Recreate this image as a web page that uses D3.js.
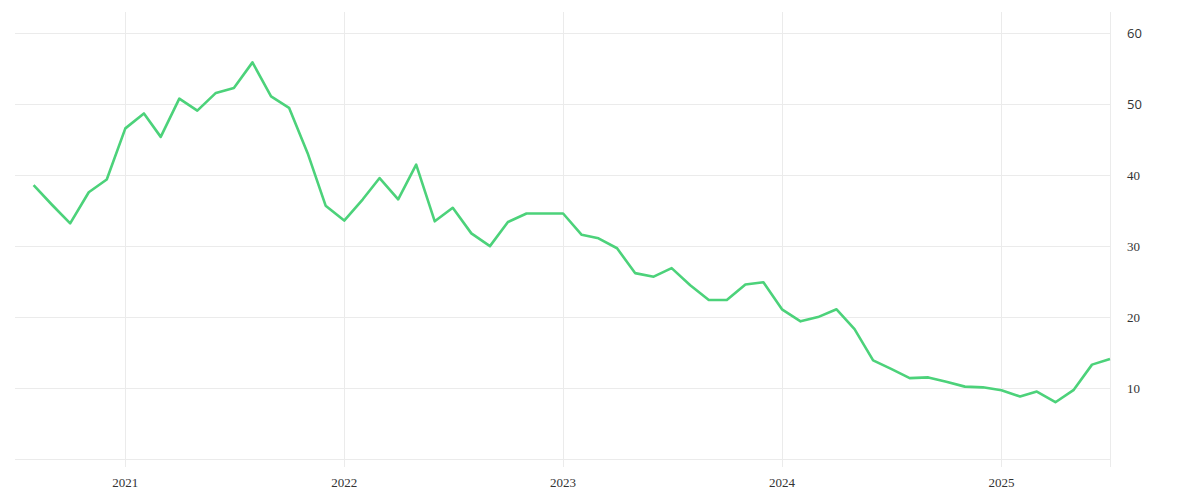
<!DOCTYPE html>
<html><head><meta charset="utf-8">
<script src="https://cdn.jsdelivr.net/npm/d3@7"></script>
<style>body{margin:0;background:#fff}svg{display:block}</style>
</head><body>
<script>
const startMonth = "2020-08";
const values = [38.6,35.8,33.2,37.6,39.4,46.6,48.7,45.4,50.8,49.1,51.6,52.3,55.9,51.1,49.5,43.1,35.7,33.6,36.6,39.6,
36.6,41.5,33.5,35.4,31.8,30.0,33.4,34.6,34.6,34.6,31.6,31.1,29.7,26.2,25.7,26.9,24.5,22.4,22.4,24.6,
24.9,21.1,19.4,20.0,21.1,18.3,13.9,12.7,11.4,11.5,10.9,10.2,10.1,9.7,8.8,9.5,8.0,9.7,13.3,14.1];
const yTicks = [0,10,20,30,40,50,60];
const yTickLabels = ["", "10","20","30","40","50","60"];
const xTickYears = [2021,2022,2023,2024,2025];

(function(){
const W=1200,H=500, mL=15, mR=1110, mT=12, mB=459;
const [sy,sm] = startMonth.split("-").map(Number);
const dates = values.map((v,i)=>new Date(Date.UTC(sy, sm-1+i, 1)));
const x = d3.scaleUtc().domain([new Date(Date.UTC(sy, sm-2, 1)), dates[dates.length-1]]).range([mL,mR]);
const y = d3.scaleLinear().domain([0,63]).range([mB,mT]);

const svg = d3.select("body").append("svg").attr("width",W).attr("height",H);
const g = svg.append("g");
g.selectAll("line.hg").data(yTicks).join("line").attr("class","hg")
 .attr("x1",mL).attr("x2",mR).attr("y1",d=>Math.round(y(d))+0.5).attr("y2",d=>Math.round(y(d))+0.5)
 .attr("stroke","#ebebeb").attr("stroke-width",1);
const xt = xTickYears.map(yr=>new Date(Date.UTC(yr,0,1)));
g.selectAll("line.vg").data(xt).join("line").attr("class","vg")
 .attr("x1",d=>Math.round(x(d))+0.5).attr("x2",d=>Math.round(x(d))+0.5).attr("y1",mT).attr("y2",mB+8)
 .attr("stroke","#ebebeb").attr("stroke-width",1);
g.append("line").attr("x1",mR+0.5).attr("x2",mR+0.5).attr("y1",mT).attr("y2",mB+8)
 .attr("stroke","#ebebeb");
g.selectAll("text.xl").data(xt).join("text").attr("class","xl")
 .attr("x",d=>x(d)).attr("y",487).attr("text-anchor","middle")
 .attr("font-family","Liberation Serif, serif").attr("font-size",13).attr("fill","#333")
 .text(d=>d3.utcFormat("%Y")(d));
g.selectAll("text.yl").data(yTicks).join("text").attr("class","yl")
 .attr("x",1127).attr("y",d=>y(d)+5).attr("text-anchor","start")
 .attr("font-family",d=>d>=50?"Open Sans, sans-serif":"Liberation Serif, serif").attr("font-size",13).attr("fill","#333")
 .text((d,i)=>yTickLabels[i]);
const line = d3.line().x((d,i)=>x(dates[i])).y(d=>y(d));
g.append("path").datum(values).attr("d",line).attr("fill","none")
 .attr("stroke","#4cd27a").attr("stroke-width",2.6).attr("stroke-linejoin","round");
})();
</script>
</body></html>
